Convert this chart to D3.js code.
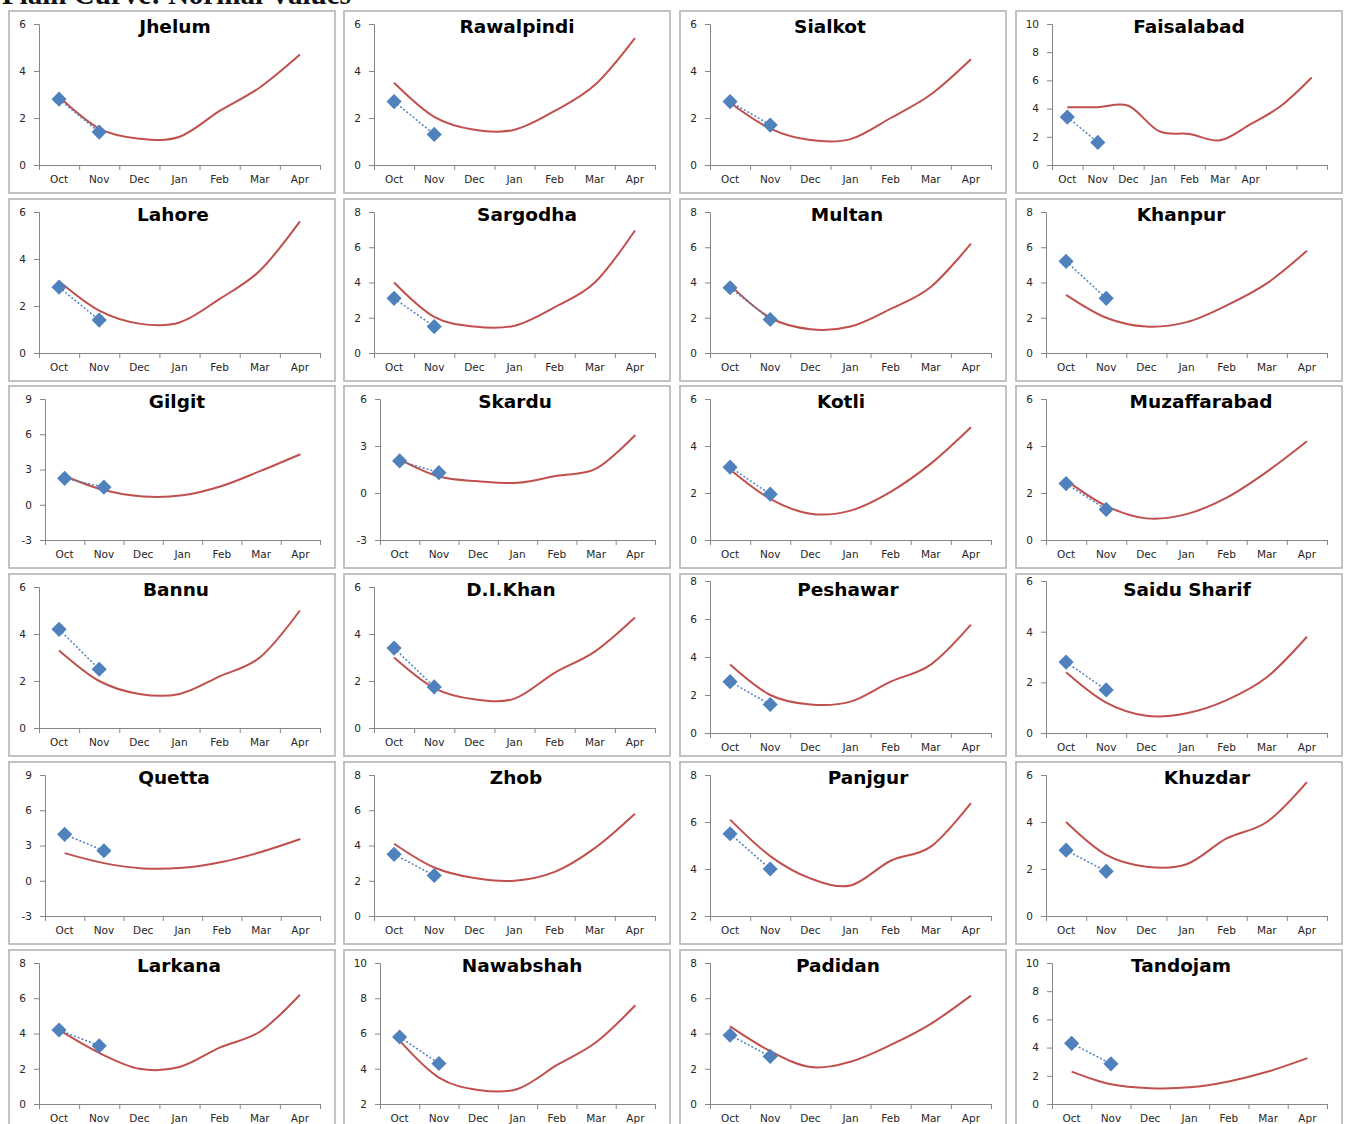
<!DOCTYPE html>
<html>
<head>
<meta charset="utf-8">
<script src="https://cdn.jsdelivr.net/npm/d3@7"></script>
<style>
  body { margin: 0; background: #fff; overflow: hidden; }
  svg { display: block; }
  .axis path, .axis line { stroke: #868686; }
  .axis text { font-family: "DejaVu Sans", Verdana, sans-serif; font-size: 10.5px; fill: #262626; }
</style>
</head>
<body>
<svg id="chart"></svg>
<script>
const months = ["Oct", "Nov", "Dec", "Jan", "Feb", "Mar", "Apr"];

const stations = [
    "Jhelum", "Rawalpindi", "Sialkot", "Faisalabad",
    "Lahore", "Sargodha", "Multan", "Khanpur",
    "Gilgit", "Skardu", "Kotli", "Muzaffarabad",
    "Bannu", "D.I.Khan", "Peshawar", "Saidu Sharif",
    "Quetta", "Zhob", "Panjgur", "Khuzdar",
    "Larkana", "Nawabshah", "Padidan", "Tandojam"
];

// normal values (red curve), Oct..Apr
const normals = [
    [2.9, 1.55, 1.12, 1.2, 2.3, 3.3, 4.7],
    [3.5, 2.05, 1.5, 1.5, 2.3, 3.4, 5.4],
    [2.65, 1.55, 1.06, 1.1, 2.0, 3.0, 4.5],
    [4.1, 4.1, 4.2, 2.4, 2.2, 1.75, 2.9, 4.2, 6.2],
    [3.05, 1.8, 1.25, 1.3, 2.3, 3.5, 5.6],
    [4.0, 2.05, 1.5, 1.55, 2.6, 4.0, 6.95],
    [3.85, 2.0, 1.35, 1.5, 2.5, 3.75, 6.2],
    [3.3, 2.0, 1.5, 1.75, 2.7, 3.95, 5.8],
    [2.45, 1.25, 0.7, 0.8, 1.6, 2.9, 4.3],
    [2.15, 1.05, 0.75, 0.65, 1.1, 1.55, 3.7],
    [3.0, 1.75, 1.12, 1.25, 2.05, 3.25, 4.8],
    [2.55, 1.45, 0.92, 1.1, 1.8, 2.9, 4.2],
    [3.3, 2.0, 1.45, 1.45, 2.2, 3.0, 5.0],
    [3.0, 1.7, 1.22, 1.25, 2.35, 3.25, 4.7],
    [3.6, 2.0, 1.5, 1.65, 2.7, 3.6, 5.7],
    [2.4, 1.2, 0.68, 0.78, 1.3, 2.2, 3.8],
    [2.35, 1.5, 1.05, 1.1, 1.6, 2.45, 3.55],
    [4.1, 2.75, 2.15, 2.0, 2.5, 3.85, 5.8],
    [6.1, 4.55, 3.6, 3.3, 4.35, 4.95, 6.8],
    [4.0, 2.6, 2.1, 2.2, 3.3, 4.0, 5.7],
    [4.2, 2.9, 2.0, 2.1, 3.2, 4.1, 6.2],
    [5.6, 3.5, 2.8, 2.85, 4.2, 5.5, 7.6],
    [4.4, 3.0, 2.1, 2.4, 3.35, 4.55, 6.15],
    [2.3, 1.4, 1.12, 1.18, 1.6, 2.3, 3.25]
];

// observed values (blue diamonds), Oct & Nov
const observed = [
    [2.8, 1.4], [2.7, 1.3], [2.7, 1.7], [3.4, 1.6],
    [2.8, 1.4], [3.1, 1.5], [3.7, 1.9], [5.2, 3.1],
    [2.25, 1.5], [2.05, 1.3], [3.1, 1.95], [2.4, 1.3],
    [4.2, 2.5], [3.4, 1.75], [2.7, 1.5], [2.8, 1.7],
    [3.95, 2.55], [3.5, 2.3], [5.5, 4.0], [2.8, 1.9],
    [4.2, 3.3], [5.8, 4.3], [3.9, 2.7], [4.3, 2.85]
];

const yMin  = [0, 0, 0, 0,  0, 0, 0, 0,  -3, -3, 0, 0,  0, 0, 0, 0,  -3, 0, 2, 0,  0, 2, 0, 0];
const yMax  = [6, 6, 6, 10, 6, 8, 8, 8,  9, 6, 6, 6,    6, 6, 8, 6,  9, 8, 8, 6,   8, 10, 8, 10];
const yStep = [2, 2, 2, 2,  2, 2, 2, 2,  3, 3, 2, 2,    2, 2, 2, 2,  3, 2, 2, 2,   2, 2, 2, 2];

// layout
const W = 1349;
const H = 1124;
const colLeft = [9, 344, 680, 1016];
const rowTop = [11, 199, 386, 574, 762, 950];
const panelW = 326;
const panelH = 182;
const titleDx = [166, 173, 150, 173, 164, 183, 167, 165, 168, 171, 161, 185,
                 167, 167, 168, 171, 165, 172, 188, 191, 170, 178, 158, 165];
const tallPanels = ["Peshawar", "Saidu Sharif"];

const svg = d3.select("#chart")
    .attr("width", W)
    .attr("height", H);

// page heading, mostly cut off at the top
svg.append("text")
    .attr("x", 2)
    .attr("y", 4)
    .attr("font-family", "Liberation Serif, serif")
    .attr("font-weight", "bold")
    .attr("font-size", 29)
    .attr("fill", "#111")
    .text("Plain Curve: Normal Values");

stations.forEach((name, i) => {
    const px = colLeft[i % 4];
    const py = rowTop[Math.floor(i / 4)];
    const vals = normals[i];
    const n = vals.length;
    const wide = String(yMax[i]).length > 1 || yMin[i] < 0;

    const tall = tallPanels.includes(name);
    const top = py + (tall ? 7 : 13);
    const bottom = py + (tall ? 159 : 154);
    const left = px + (wide ? 36 : 30);
    const right = px + 311;

    const g = svg.append("g");

    g.append("rect")
        .attr("x", px)
        .attr("y", py)
        .attr("width", panelW)
        .attr("height", panelH)
        .attr("fill", "#fff")
        .attr("stroke", "#b4b4b4")
        .attr("stroke-width", 1.6);

    const x = d3.scaleBand()
        .domain(d3.range(n))
        .range([left, right]);

    const xTicks = d3.scaleLinear()
        .domain([0, n])
        .range([left, right]);

    const y = d3.scaleLinear()
        .domain([yMin[i], yMax[i]])
        .range([bottom, top]);

    // Axis Y
    g.append("g")
        .attr("class", "axis")
        .attr("transform", `translate(${left},0)`)
        .call(d3.axisLeft(y)
            .tickValues(d3.range(yMin[i], yMax[i] + 0.001, yStep[i]))
            .tickSize(5)
            .tickPadding(8)
            .tickFormat(d => String(d)));

    // Axis X : labels at centres, tick marks between categories
    g.append("g")
        .attr("class", "axis")
        .attr("transform", `translate(0,${bottom})`)
        .call(d3.axisBottom(xTicks)
            .tickValues(d3.range(n + 1))
            .tickSize(5)
            .tickFormat(""));

    g.append("g")
        .attr("class", "axis")
        .attr("transform", `translate(0,${bottom})`)
        .call(d3.axisBottom(x)
            .tickSize(0)
            .tickPadding(11)
            .tickFormat(d => months[d] || ""))
        .call(a => a.select(".domain").remove());

    // Title
    g.append("text")
        .attr("x", px + titleDx[i])
        .attr("y", py + 22)
        .attr("text-anchor", "middle")
        .attr("font-family", "DejaVu Sans, Verdana, sans-serif")
        .attr("font-weight", "bold")
        .attr("font-size", 18.5)
        .attr("fill", "#000")
        .text(name);

    // Normal curve
    const line = d3.line()
        .x((d, j) => x(j) + x.bandwidth() / 2)
        .y(d => y(d))
        .curve(d3.curveCatmullRom.alpha(0));

    g.append("path")
        .datum(vals)
        .attr("fill", "none")
        .attr("stroke", "#c0504d")
        .attr("stroke-width", 2)
        .attr("d", line);

    // Observed values
    const obsLine = d3.line()
        .x((d, j) => x(j) + x.bandwidth() / 2)
        .y(d => y(d));

    g.append("path")
        .datum(observed[i])
        .attr("fill", "none")
        .attr("stroke", "#4f81bd")
        .attr("stroke-width", 1.5)
        .attr("stroke-dasharray", "2,2")
        .attr("d", obsLine);

    g.selectAll(".dot")
        .data(observed[i])
        .enter()
        .append("path")
        .attr("class", "dot")
        .attr("d", d3.symbol(d3.symbolSquare).size(115))
        .attr("transform", (d, j) =>
            `translate(${x(j) + x.bandwidth() / 2},${y(d)}) rotate(45)`)
        .attr("fill", "#4f81bd");
});
</script>
</body>
</html>
